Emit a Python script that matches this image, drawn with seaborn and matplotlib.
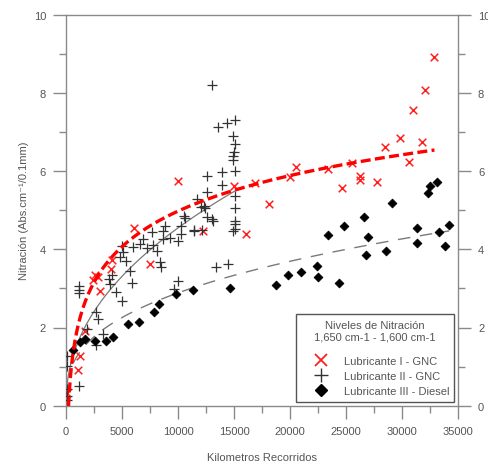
import numpy as np
import pandas as pd
import seaborn as sns
import matplotlib
matplotlib.use("Agg")
import matplotlib.pyplot as plt
from matplotlib.lines import Line2D
from matplotlib.ticker import MultipleLocator

# ---------------- data ----------------
lub1_km = [60, 1100, 1250, 1700, 2440, 2600, 2900, 3000, 4000, 4100, 6100, 7500,
           10000, 12260, 15000, 16100, 16900, 18150, 20000, 20500, 23400, 24600,
           25500, 26250, 26250, 27800, 28500, 29800, 30600, 31000, 31750, 32050, 32900]
lub1_nit = [0.32, 0.92, 1.28, 1.90, 3.22, 3.34, 3.28, 2.94, 3.50, 3.73, 4.54, 3.62,
            5.74, 4.46, 5.63, 4.39, 5.70, 5.16, 5.86, 6.10, 6.05, 5.57,
            6.21, 5.88, 5.78, 5.73, 6.61, 6.85, 6.24, 7.55, 6.75, 8.07, 8.91]

lub2_km = [60, 60, 100, 60, 60, 1200, 1200, 1200, 1200, 1850, 2700, 2700, 2900, 3300,
           3800, 3900, 4100, 4500, 4850, 5000, 5000, 5100, 5400, 5750, 5900, 6000,
           6600, 6900, 7200, 7650, 7800, 8100, 8400, 8500, 8700, 8700, 8840, 9300,
           9600, 10000, 10000, 10300, 10300, 10500, 10600, 11400, 11450, 11700,
           12050, 12100, 12300, 12400, 12550, 12550, 12600, 13000, 13000, 13100,
           13400, 13600, 13900, 13900, 14350, 14500, 14900, 14900, 14900, 14900,
           15000, 15100, 15100, 15100, 15100, 15100, 15100, 15100, 15100]
lub2_nit = [0.14, 0.26, 0.43, 1.02, 1.28, 0.51, 2.88, 2.97, 3.07, 1.96, 1.55, 2.39, 2.22, 1.83,
            3.24, 3.11, 3.33, 2.90, 3.80, 2.69, 4.09, 3.92, 3.71, 3.45, 3.14, 4.05,
            4.14, 4.26, 4.03, 4.43, 4.11, 3.96, 3.67, 3.56, 4.26, 4.48, 4.60, 4.28,
            2.98, 3.20, 4.22, 4.39, 4.60, 4.86, 4.79, 4.46, 4.50, 5.29,
            5.09, 4.50, 5.12, 5.05, 4.82, 5.47, 5.87, 4.78, 8.20, 4.73,
            3.54, 7.14, 5.65, 5.97, 7.22, 3.62, 4.48, 6.29, 6.38, 6.91,
            6.50, 4.52, 4.65, 4.73, 5.05, 5.37, 6.01, 6.69, 7.31]

lub3_km = [650, 1250, 1700, 2600, 3570, 4170, 5500, 6500, 7900, 8300, 9800, 11300,
           14600, 18750, 19850, 21000, 22450, 22500, 23400, 24400, 24800, 26600,
           26800, 27000, 28600, 29100, 31300, 31300, 32300, 32500, 33100, 33300,
           33800, 34200]
lub3_nit = [1.43, 1.64, 1.71, 1.65, 1.65, 1.75, 2.09, 2.15, 2.39, 2.60, 2.86, 2.95,
            3.00, 3.09, 3.33, 3.42, 3.57, 3.30, 4.36, 3.14, 4.60, 4.83,
            3.85, 4.32, 3.96, 5.18, 4.54, 4.15, 5.44, 5.63, 5.73, 4.43,
            4.09, 4.62]

series_labels = ["Lubricante I - GNC", "Lubricante II - GNC", "Lubricante III - Diesel"]
legend_title = "Niveles de Nitración\n1,650 cm-1 - 1,600 cm-1"
x_label = "Kilometros Recorridos"
y_label = "Nitración (Abs.cm⁻¹/0.1mm)"

# ---------------- style ----------------
sns.set_style("ticks")
plt.rcParams['font.family'] = ['Liberation Sans', 'DejaVu Sans']
TXT = "#555555"
AX = "#8a8a8a"
RED = "#ff2020"

fig = plt.figure(figsize=(4.89, 4.64), dpi=100)
ax = fig.add_axes([66/489, 1-406.7/464, 392/489, 391/464])

d1 = pd.DataFrame({"km": lub1_km, "nit": lub1_nit})
d2 = pd.DataFrame({"km": lub2_km, "nit": lub2_nit})
d3 = pd.DataFrame({"km": lub3_km, "nit": lub3_nit})

# fitted trend lines computed from the data
x1 = np.array(lub1_km, float); y1 = np.array(lub1_nit, float)
a1, b1 = np.polyfit(np.log(x1), y1, 1)           # logarithmic fit
g1 = np.linspace(x1.min(), x1.max(), 400)
f1 = a1*np.log(g1) + b1

x2 = np.array(lub2_km, float); y2 = np.array(lub2_nit, float)
p2 = np.polyfit(np.log(x2), np.log(y2), 1)       # power fit
g2 = np.linspace(x2.min(), x2.max(), 400)
f2 = np.exp(p2[1])*g2**p2[0]

x3 = np.array(lub3_km, float); y3 = np.array(lub3_nit, float)
p3 = np.polyfit(np.log(x3), np.log(y3), 1)       # power fit
g3 = np.linspace(x3.min(), x3.max(), 400)
f3 = np.exp(p3[1])*g3**p3[0]

sns.lineplot(x=g3, y=f3, ax=ax, color="#7a7a7a", lw=1.0,
             linestyle=(0, (9, 7)), estimator=None, zorder=2)
sns.lineplot(x=g2, y=f2, ax=ax, color="#7a7a7a", lw=0.9,
             estimator=None, zorder=2)

sns.scatterplot(data=d1, x="km", y="nit", ax=ax, marker="x", color=RED,
                s=30, linewidth=1.1, zorder=3, legend=False)
sns.scatterplot(data=d2, x="km", y="nit", ax=ax, marker="+", color="#333333",
                s=42, linewidth=0.9, zorder=3, legend=False)
sns.scatterplot(data=d3, x="km", y="nit", ax=ax, marker="D", color="black",
                s=20, edgecolor="black", linewidth=0.6, zorder=3, legend=False)

sns.lineplot(x=g1, y=f1, ax=ax, color="#ff0000", lw=2.4,
             linestyle=(0, (3.0, 1.3)), estimator=None, zorder=4)

# ---------------- axes ----------------
ax.set_xlim(0, 35000)
ax.set_ylim(0, 10)
ax.xaxis.set_major_locator(MultipleLocator(5000))
ax.xaxis.set_minor_locator(MultipleLocator(2500))
ax.yaxis.set_major_locator(MultipleLocator(2))
ax.yaxis.set_minor_locator(MultipleLocator(1))
for sp in ax.spines.values():
    sp.set_color(AX)
    sp.set_linewidth(1.0)
ax.tick_params(axis="both", which="major", direction="out", length=9.4, width=1.0,
               color=AX, labelcolor=TXT, labelsize=8, pad=5)
ax.tick_params(axis="both", which="minor", direction="out", length=5.2, width=1.0,
               color=AX)
ax.tick_params(axis="y", which="both", left=True, right=True, labelleft=True, labelright=True)
ax.tick_params(axis="x", which="both", top=False, bottom=True)

ax.set_xlabel(x_label, fontsize=8, color=TXT)
ax.set_ylabel(y_label, fontsize=8, color=TXT)
ax.xaxis.label.set_va("center")
ax.yaxis.label.set_va("center")
ax.xaxis.set_label_coords(0.5, -0.131)
ax.yaxis.set_label_coords(-0.108, 0.5)

# ---------------- legend ----------------
handles = [
    Line2D([], [], marker="x", color=RED, linestyle="none", markersize=8, mew=1.3),
    Line2D([], [], marker="+", color="#333333", linestyle="none", markersize=10, mew=1.0),
    Line2D([], [], marker="D", color="black", linestyle="none", markersize=6.5),
]
leg = ax.legend(handles, series_labels, title=legend_title, loc="lower left",
                bbox_to_anchor=(0.587, 0.0102, 0.403, 0.242), mode="expand",
                fontsize=8, title_fontsize=8, frameon=True, fancybox=False,
                edgecolor="#555555", framealpha=1, borderpad=0.55,
                handlelength=3.4, handletextpad=0.35, labelspacing=0.45,
                borderaxespad=0)
leg.get_frame().set_linewidth(1.0)
leg.get_title().set_color(TXT)
leg.get_title().set_multialignment("center")
for t in leg.get_texts():
    t.set_color(TXT)
try:
    leg._legend_box.sep = 10.0
except Exception:
    pass

fig.savefig("out.png", dpi=100)
